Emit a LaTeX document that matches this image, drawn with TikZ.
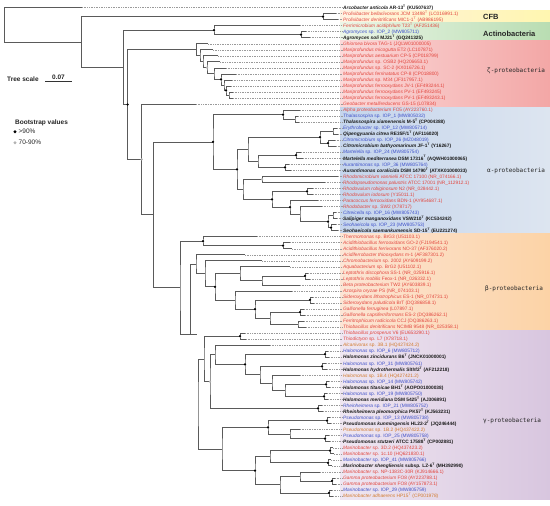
\documentclass[tikz,border=0pt]{standalone}
\usepackage{fontspec}
\setmainfont{Liberation Sans}
\newfontfamily\grpfont{DejaVu Sans Mono}
\usetikzlibrary{calc}
\definecolor{cred}{HTML}{E2453D}
\definecolor{cblue}{HTML}{3F51C9}
\definecolor{corange}{HTML}{D27A2C}
\definecolor{cblack}{HTML}{1A1A1A}
\definecolor{brc}{HTML}{5A5A5A}
\definecolor{dshc}{HTML}{9A9A9A}
\tikzset{
 br/.style={draw=brc, line width=0.6pt},
 dsh/.style={draw=dshc, line width=0.35pt, dash pattern=on 1pt off 0.7pt},
 lab/.style={anchor=base west, inner sep=0pt},
 rl/.style={lab, text=cred, font=\fontsize{4.8}{5}\selectfont},
 bl/.style={lab, text=cblue, font=\fontsize{4.8}{5}\selectfont},
 ol/.style={lab, text=corange, font=\fontsize{4.8}{5}\selectfont},
 kl/.style={lab, text=cblack, font=\fontsize{4.8}{5}\selectfont\bfseries},
 grp/.style={anchor=west, inner sep=0pt, text=black!85, font=\fontsize{6}{6}\grpfont},
 grpb/.style={anchor=west, inner sep=0pt, text=black!85, font=\fontsize{7.5}{8}\selectfont\bfseries},
 leg/.style={anchor=west, inner sep=0pt, text=black!85, font=\fontsize{6.5}{7}\selectfont\bfseries},
 legn/.style={anchor=west, inner sep=0pt, text=black!85, font=\fontsize{6.5}{7}\selectfont},
}
\newcommand\leaf[5]{%
  \pgfmathsetmacro\yy{7.5+(#2-1)*6.03}%
  \coordinate (#1) at (#3,\yy);%
  \coordinate (#1e) at (342.5,\yy);%
  \draw[dsh] (#1) -- (#1e);%
  \node[#4] (#1t) at (343,\yy+1.75) {#5};%
}
\newcommand\inode[4]{%
  \path ($(#3)!0.5!(#4)$) coordinate (#1m);%
  \path let \p1=(#1m) in (#2pt,\y1) coordinate (#1);%
  \draw[br] (#3) -| (#1) |- (#4);%
}
\newcommand\bsb[1]{\fill[black] (#1) circle (1.25pt);}
\newcommand\bsg[1]{\fill[gray!60] (#1) circle (1.25pt);}
\begin{document}
\begin{tikzpicture}[x=1pt,y=-1pt]
\useasboundingbox (0,0) rectangle (550,506);
% bands
\shade[left color={rgb,255:red,255;green,242;blue,226}, right color={rgb,255:red,255;green,246;blue,176}] (340,10.5) rectangle (550,22.6);
\shade[left color={rgb,255:red,236;green,246;blue,232}, right color={rgb,255:red,185;green,221;blue,178}] (340,22.6) rectangle (550,40.7);
\shade[left color={rgb,255:red,251;green,217;blue,217}, right color={rgb,255:red,243;green,167;blue,166}] (340,40.7) rectangle (550,107);
\shade[left color={rgb,255:red,197;green,213;blue,236}, right color={rgb,255:red,221;green,229;blue,240}] (340,107) rectangle (550,233.6);
\shade[left color={rgb,255:red,252;green,229;blue,213}, right color={rgb,255:red,252;green,211;blue,166}] (340,233.6) rectangle (550,330.1);
\shade[left color={rgb,255:red,239;green,230;blue,241}, right color={rgb,255:red,216;green,198;blue,223}] (340,330.1) rectangle (550,499);
% group labels
\node[grpb] (gcfb) at (483,17) {CFB};
\node[grpb] (gact) at (483,34) {Actinobacteria};
\node[grp] (gzeta) at (487,71) {ζ-proteobacteria};
\node[grp] (galpha) at (487,171) {α-proteobacteria};
\node[grp] (gbeta) at (485,289) {β-proteobacteria};
\node[grp] (ggamma) at (483,421) {γ-proteobacteria};
% legend
\node[leg] (ts) at (7,79) {Tree scale};
\coordinate (sb1) at (45,81);
\coordinate (sb2) at (72,81);
\draw[line width=0.6pt, black!80] (sb1) -- (sb2) node[midway, above=1.2pt, inner sep=0pt, font=\fontsize{6.5}{7}\selectfont\bfseries, text=black!85] (sbl) {0.07};
\node[leg] (bst) at (15,122.7) {Bootstrap values};
\coordinate (ld1) at (15,131.7);
\coordinate (ld2) at (15,142.7);
\fill[black] (ld1) circle (1.6pt);
\fill[gray!60] (ld2) circle (1.6pt);
\node[legn] (lt1) at (18.5,131.7) {>90\%};
\node[legn] (lt2) at (18.5,142.7) {70-90\%};
% leaves
\leaf{arc}{1}{82}{kl}{\textit{Arcobacter anticola} AR-13\textsuperscript{T} (KU507637)}
\leaf{pro1}{2}{336}{rl}{\textit{Prolixibacter bellariivorans} JCM 13498\textsuperscript{T} (LC016991.1)}
\leaf{pro2}{3}{338}{rl}{\textit{Prolixibacter denitrificans} MIC1-1\textsuperscript{T} (AB986195)}
\leaf{fer}{4}{300}{rl}{\textit{Ferrimicrobium acidiphilum} T23\textsuperscript{T} (AF251436)}
\leaf{agr1}{5}{306}{bl}{\textit{Agromyces} sp. IOP\_2 (MW805711)}
\leaf{agr2}{6}{310}{kl}{\textit{Agromyces soli} MJ21\textsuperscript{T} (GQ241325)}
\leaf{ghi}{7}{208}{rl}{\textit{Ghiorsea bivora} TAG-1 (JQLW01000005)}
\leaf{mp1}{8}{213}{rl}{\textit{Mariprofundus micogutta} ET2 (LC107871)}
\leaf{mp2}{9}{218}{rl}{\textit{Mariprofundus aestuarium} CP-5 (CP018799)}
\leaf{mp3}{10}{220}{rl}{\textit{Mariprofundus} sp. OSB2 (HQ206653.1)}
\leaf{mp4}{11}{226}{rl}{\textit{Mariprofundus} sp. SC-2 (KX016726.1)}
\leaf{mp5}{12}{236}{rl}{\textit{Mariprofundus ferrinatatus} CP-8 (CP018800)}
\leaf{mp6}{13}{232}{rl}{\textit{Mariprofundus} sp. M34 (JF317957.1)}
\leaf{mp7}{14}{231}{rl}{\textit{Mariprofundus ferrooxydans} JV-1 (EF493244.1)}
\leaf{mp8}{15}{233}{rl}{\textit{Mariprofundus ferrooxydans} PV-1 (EF493245)}
\leaf{mp9}{16}{233}{rl}{\textit{Mariprofundus ferrooxydans} PV-1 (EF493243.1)}
\leaf{geo}{17}{196}{rl}{\textit{Geobacter metallireducens} GS-15 (L07834)}
\leaf{fo5}{18}{300}{rl}{\textit{Alpha proteobacterium} FO5 (AY223760.1)}
\leaf{tha1}{19}{298}{bl}{\textit{Thalassospira} sp. IOP\_1 (MW805032)}
\leaf{tha2}{20}{299}{kl}{\textit{Thalassospira xiamenensis} M-5\textsuperscript{T} (CP004388)}
\leaf{ery}{21}{337}{bl}{\textit{Erythrobacter} sp. IOP\_12 (MW805714)}
\leaf{opp}{22}{338}{kl}{\textit{Qipengyuania citrea} RE35F/1\textsuperscript{T} (AF116020)}
\leaf{cit1}{23}{335}{bl}{\textit{Citromicrobium} sp. IOP\_26 (MZ048019)}
\leaf{cit2}{24}{336}{kl}{\textit{Citromicrobium bathyomarinum} JF-1\textsuperscript{T} (Y16267)}
\leaf{mar1}{25}{301}{bl}{\textit{Martelella} sp. IOP\_24 (MW805754)}
\leaf{mar2}{26}{303}{kl}{\textit{Martelella mediterranea} DSM 17316\textsuperscript{T} (AQWH01000065)}
\leaf{aur1}{27}{289}{bl}{\textit{Aurantimonas} sp. IOP\_36 (MW805764)}
\leaf{aur2}{28}{291}{kl}{\textit{Aurantimonas coralicida} DSM 14790\textsuperscript{T} (ATXK01000033)}
\leaf{rmi}{29}{338}{rl}{\textit{Rhodomicrobium vannielii} ATCC 17100 (NR\_074166.1)}
\leaf{rps}{30}{325}{rl}{\textit{Rhodopseudomonas palustris} ATCC 17001 (NR\_112912.1)}
\leaf{rv1}{31}{313}{rl}{\textit{Rhodovulum robiginosum} N2 (NR\_028442.1)}
\leaf{rv2}{32}{313}{rl}{\textit{Rhodovulum iodosum} (Y15011.1)}
\leaf{par}{33}{318}{rl}{\textit{Paracoccus ferrooxidans} BDN-1 (AY954687.1)}
\leaf{rba}{34}{322}{rl}{\textit{Rhodobacter} sp. SW2 (X78717)}
\leaf{cre}{35}{336}{bl}{\textit{Citreicella} sp. IOP\_16 (MW805743)}
\leaf{sal}{36}{337}{kl}{\textit{Salipiger manganoxidans} VSW210\textsuperscript{T} (KC534242)}
\leaf{seo1}{37}{336}{bl}{\textit{Seohaeicola} sp. IOP\_23 (MW805753)}
\leaf{seo2}{38}{338}{kl}{\textit{Seohaeicola saemankumensis} SD-15\textsuperscript{T} (EU221274)}
\leaf{the}{39}{257}{rl}{\textit{Thermomonas} sp. BrG3 (U51103.1)}
\leaf{at1}{40}{290}{rl}{\textit{Acidithiobacillus ferrooxidans} GO-2 (FJ194541.1)}
\leaf{at2}{41}{292}{rl}{\textit{Acidithiobacillus ferrivorans} NO-37 (AF376020.2)}
\leaf{afb}{42}{245}{rl}{\textit{Acidiferrobacter thiooxydans} m-1 (AF387301.2)}
\leaf{chr}{43}{262}{rl}{\textit{Chromobacterium} sp. 2002 (AY609199.2)}
\leaf{aqu}{44}{290}{rl}{\textit{Aquabacterium} sp. BrG2 (U51102.1)}
\leaf{lep1}{45}{308}{rl}{\textit{Leptothrix discophora} SS-1 (NR\_025916.1)}
\leaf{lep2}{46}{310}{rl}{\textit{Leptothrix mobilis} Feox-1 (NR\_026332.1)}
\leaf{tw2}{47}{300}{rl}{\textit{Beta proteobacterium} TW2 (AY603839.1)}
\leaf{azo}{48}{292}{rl}{\textit{Azospira oryzae} PS (NR\_074103.1)}
\leaf{sid1}{49}{313}{rl}{\textit{Sideroxydans lithotrophicus} ES-1 (NR\_074731.1)}
\leaf{sid2}{50}{314}{rl}{\textit{Sideroxydans paludicola} BrT (DQ386858.1)}
\leaf{gal1}{51}{304}{rl}{\textit{Gallionella ferruginea} (L07897.1)}
\leaf{gal2}{52}{305}{rl}{\textit{Gallionella capsiferriformans} ES-2 (DQ386262.1)}
\leaf{frr}{53}{304}{rl}{\textit{Ferritrophicum radicicola} CCJ (DQ386263.1)}
\leaf{thd}{54}{306}{rl}{\textit{Thiobacillus denitrificans} NCIMB 9548 (NR\_025358.1)}
\leaf{thp}{55}{245}{rl}{\textit{Thiobacillus prosperus} V6 (EU653290.1)}
\leaf{thy}{56}{246}{rl}{\textit{Thiodictyon} sp. L7 (X78718.1)}
\leaf{alc}{57}{270}{ol}{\textit{Alcanivorax} sp. 3B.1 (HQ427424.2)}
\leaf{hal1}{58}{328}{bl}{\textit{Halomonas} sp. IOP\_6 (MW805712)}
\leaf{hal2}{59}{329}{kl}{\textit{Halomonas zincidurans} B6\textsuperscript{T} (JNCK01000001)}
\leaf{hal3}{60}{326}{bl}{\textit{Halomonas} sp. IOP\_31 (MW805761)}
\leaf{hal4}{61}{327}{kl}{\textit{Halomonas hydrothermalis} Slthf2\textsuperscript{T} (AF212218)}
\leaf{hal5}{62}{300}{ol}{\textit{Halomonas} sp. 1B.4 (HQ427421.2)}
\leaf{hal6}{63}{329}{bl}{\textit{Halomonas} sp. IOP\_14 (MW805742)}
\leaf{hal7}{64}{330}{kl}{\textit{Halomonas titanicae} BH1\textsuperscript{T} (AOPO01000038)}
\leaf{hal8}{65}{327}{bl}{\textit{Halomonas} sp. IOP\_19 (MW805750)}
\leaf{hal9}{66}{328}{kl}{\textit{Halomonas meridiana} DSM 5425\textsuperscript{T} (AJ306891)}
\leaf{rhe1}{67}{322}{bl}{\textit{Rheinheimera} sp. IOP\_21 (MW805752)}
\leaf{rhe2}{68}{323}{kl}{\textit{Rheinheimera pleomorphica} PK57\textsuperscript{T} (KJ563231)}
\leaf{ps1}{69}{330}{bl}{\textit{Pseudomonas} sp. IOP\_13 (MW805738)}
\leaf{ps2}{70}{331}{kl}{\textit{Pseudomonas kunmingensis} HL22-2\textsuperscript{T} (JQ246444)}
\leaf{ps3}{71}{300}{ol}{\textit{Pseudomonas} sp. 1B.2 (HQ437422.2)}
\leaf{ps4}{72}{329}{bl}{\textit{Pseudomonas} sp. IOP\_25 (MW805758)}
\leaf{ps5}{73}{330}{kl}{\textit{Pseudomonas stutzeri} ATCC 17588\textsuperscript{T} (CP002881)}
\leaf{mb1}{74}{333}{rl}{\textit{Marinobacter} sp. 3D.2 (HQ437423.2)}
\leaf{mb2}{75}{334}{rl}{\textit{Marinobacter} sp. 1c.10 (HQ621830.1)}
\leaf{mb3}{76}{331}{bl}{\textit{Marinobacter} sp. IOP\_41 (MW805766)}
\leaf{mb4}{77}{332}{kl}{\textit{Marinobacter shengliensis} subsp. LZ-6\textsuperscript{T} (MH392990)}
\leaf{mb5}{78}{320}{rl}{\textit{Marinobacter} sp. NP-1383C-30R (KJ914666.1)}
\leaf{gm1}{79}{335}{rl}{\textit{Gamma proteobacterium} FO8 (AY223788.1)}
\leaf{gm2}{80}{336}{rl}{\textit{Gamma proteobacterium} FO8 (AY157873.1)}
\leaf{mb6}{81}{332}{bl}{\textit{Marinobacter} sp. IOP\_29 (MW805759)}
\leaf{mb7}{82}{333}{ol}{\textit{Marinobacter adhaerens} HP15\textsuperscript{T} (CP001978)}
% internal nodes: upper part
\inode{P}{323}{pro1}{pro2}
\inode{Ag}{301}{agr1}{agr2}
\inode{Ac}{214}{fer}{Ag}
\inode{Z9}{229}{mp8}{mp9}
\inode{Z8}{226}{mp7}{Z9}
\inode{Z7}{224}{mp6}{Z8}
\inode{Z6}{221}{mp5}{Z7}
\inode{Z5}{214}{mp4}{Z6}
\inode{Z4}{207}{mp3}{Z5}
\inode{Z3}{203}{mp2}{Z4}
\inode{Z2}{200}{mp1}{Z3}
\inode{Z1}{196.7}{ghi}{Z2}
% alpha
\inode{T1}{295}{tha1}{tha2}
\inode{T0}{283}{fo5}{T1}
\inode{N2122}{333}{ery}{opp}
\inode{N2324}{328}{cit1}{cit2}
\inode{N21}{320}{N2122}{N2324}
\inode{Mart}{296}{mar1}{mar2}
\inode{Aur}{285}{aur1}{aur2}
\inode{N2528}{258}{Mart}{Aur}
\inode{A3}{248}{N21}{N2528}
\inode{R2}{262}{rmi}{rps}
\inode{Rv}{307}{rv1}{rv2}
\inode{R7}{333}{cre}{sal}
\inode{R8}{331}{seo1}{seo2}
\inode{R6}{328}{R7}{R8}
\inode{R5}{300}{rba}{R6}
\inode{R4}{290}{par}{R5}
\inode{R3}{272}{Rv}{R4}
\inode{R1}{243}{R2}{R3}
\inode{A2}{237}{A3}{R1}
\inode{Aroot}{213}{T0}{A2}
% beta
\inode{AT}{283}{at1}{at2}
\inode{B1}{203}{the}{AT}
\inode{Lp}{305}{lep1}{lep2}
\inode{Bl}{262}{Lp}{tw2}
\inode{Bd}{240}{aqu}{Bl}
\inode{Sd}{310}{sid1}{sid2}
\inode{Gw}{300}{gal1}{gal2}
\inode{Bx}{298}{frr}{thd}
\inode{Bv}{270}{Gw}{Bx}
\inode{Bt}{255}{Sd}{Bv}
\inode{Bs}{235}{azo}{Bt}
\inode{Bc}{215}{Bd}{Bs}
\inode{Bb}{205}{chr}{Bc}
\inode{Bg}{196}{afb}{Bb}
% gamma
\inode{Gt}{240}{thp}{thy}
\inode{Hc}{325}{hal1}{hal2}
\inode{He}{322}{hal3}{hal4}
\inode{Hh}{326}{hal6}{hal7}
\inode{Hi}{324}{hal8}{hal9}
\inode{Hg}{285}{Hh}{Hi}
\inode{Hf}{272}{hal5}{Hg}
\inode{Hd}{260}{He}{Hf}
\inode{Hb}{245}{Hc}{Hd}
\inode{Ha}{215}{alc}{Hb}
\inode{Rh}{318}{rhe1}{rhe2}
\inode{Gh}{210}{Ha}{Rh}
\inode{Ga}{204}{Gt}{Gh}
\inode{PsA}{327}{ps1}{ps2}
\inode{PsC}{325}{ps4}{ps5}
\inode{PsB}{290}{ps3}{PsC}
\inode{Ps}{268}{PsA}{PsB}
\inode{Mc}{330}{mb1}{mb2}
\inode{Md}{328}{mb3}{mb4}
\inode{Mg}{270}{Mc}{Md}
\inode{Mj}{332}{gm1}{gm2}
\inode{Mf}{300}{mb5}{Mj}
\inode{Mi}{329}{mb6}{mb7}
\inode{Mh}{280}{Mf}{Mi}
\inode{Mb}{255}{Mg}{Mh}
\inode{Gb}{222}{Ps}{Mb}
\inode{Gm}{198}{Ga}{Gb}
\inode{G}{190}{Bg}{Gm}
\inode{F}{180}{B1}{G}
\inode{E}{153.3}{Aroot}{F}
\inode{D}{141.7}{geo}{E}
\inode{C}{127.7}{Z1}{D}
\inode{B}{123.3}{Ac}{C}
\inode{A}{81.7}{P}{B}
\inode{R0}{4.5}{arc}{A}
% bootstrap symbols
\bsb{P}\bsb{Ag}\bsb{Ac}\bsb{Z6}\bsb{Z8}\bsb{T0}\bsb{N21}\bsb{N2324}\bsb{Mart}\bsb{Aur}
\bsb{Rv}\bsb{R3}\bsb{R4}\bsb{R6}\bsb{R8}\bsb{A2}\bsb{Aroot}\bsb{C}
\bsb{AT}\bsb{B1}\bsb{Lp}\bsb{Sd}\bsb{Gw}\bsb{Bt}\bsb{Bc}
\bsb{Gt}\bsb{Hc}\bsb{He}\bsb{Hh}\bsb{Hi}\bsb{Hb}\bsb{Rh}\bsb{PsA}\bsb{PsC}\bsb{Ps}
\bsb{Mc}\bsb{Md}\bsb{Mj}\bsb{Mi}\bsb{Mb}
\bsg{D}\bsg{R2}\bsg{Gh}\bsg{Z4}
\end{tikzpicture}
\end{document}
